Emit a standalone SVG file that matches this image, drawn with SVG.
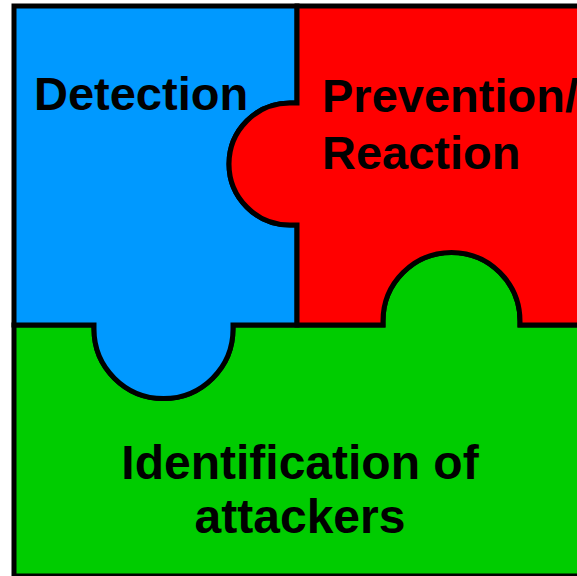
<svg xmlns="http://www.w3.org/2000/svg" width="577" height="576" viewBox="0 0 577 576">
  <style>
    .piece { stroke: #000; stroke-width: 5; stroke-linejoin: miter; }
    .label { font-family: "Liberation Sans", Arial, sans-serif; font-weight: bold; font-size: 47px; fill: #000; }
    .big { font-size: 48px; }
  </style>
  <rect x="0" y="0" width="577" height="576" fill="#fff"/>

  <!-- bottom piece -->
  <g id="identification">
    <path class="piece" fill="#00CC00" d="M14,325 H94 V329 A69.5,69.5 0 0 0 233,329 V325 H383 V321 A68.5,68.5 0 0 1 520,321 V325 H600 V576 H14 Z"/>
    <text class="label big" x="300" y="479" text-anchor="middle">Identification of</text>
    <text class="label big" x="300" y="533" text-anchor="middle">attackers</text>
  </g>

  <!-- top-left piece -->
  <g id="detection">
    <path class="piece" fill="#0099FF" d="M14,6 H297 V103 H290 A61,61 0 0 0 290,225 H297 V325 H233 V329 A69.5,69.5 0 0 1 94,329 V325 H14 Z"/>
    <text class="label" x="34" y="110">Detection</text>
  </g>

  <!-- top-right piece -->
  <g id="prevention">
    <path class="piece" fill="#FF0000" d="M297,6 H600 V325 H520 V321 A68.5,68.5 0 0 0 383,321 V325 H297 V225 H290 A61,61 0 0 1 290,103 H297 Z"/>
    <text class="label" x="322" y="112">Prevention/</text>
    <text class="label" x="322" y="169">Reaction</text>
  </g>

  <!-- outer frame -->
  <g id="connectors">
    <rect x="14" y="6" width="600" height="570" fill="none" stroke="#000" stroke-width="4"/>
  </g>
</svg>
